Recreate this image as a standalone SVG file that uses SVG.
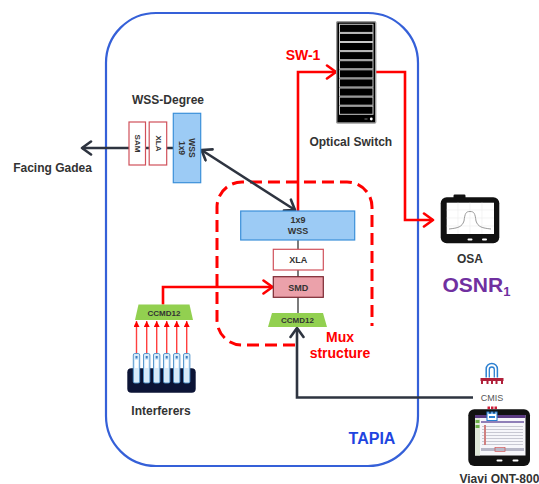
<svg xmlns="http://www.w3.org/2000/svg" width="539" height="484" viewBox="0 0 539 484">
  <style>
    .lbl { font-family: "Liberation Sans", Arial, sans-serif; font-weight: bold; fill: #333; }
    .red { font-family: "Liberation Sans", Arial, sans-serif; font-weight: bold; fill: #ff0000; }
    .dark { fill: none; stroke: #2e3440; stroke-width: 2.6; }
    .redline { fill: none; stroke: #ff0000; stroke-width: 2.6; }
    .feed { fill: none; stroke: #ff4040; stroke-width: 1.4; }
    .sm { font-family: "Liberation Sans", Arial, sans-serif; font-weight: bold; fill: #333; text-anchor: middle; }
  </style>
  <defs>
    <marker id="chev-dark" viewBox="-11 -8 13 16" markerWidth="13" markerHeight="16" refX="0" refY="0" orient="auto-start-reverse" markerUnits="userSpaceOnUse">
      <path d="M-9,-6.5 L0,0 L-9,6.5" fill="none" stroke="#2e3440" stroke-width="2.6" stroke-linecap="round" stroke-linejoin="round"/>
    </marker>
    <marker id="chev-red" viewBox="-11 -8 13 16" markerWidth="13" markerHeight="16" refX="0" refY="0" orient="auto" markerUnits="userSpaceOnUse">
      <path d="M-9,-6.5 L0,0 L-9,6.5" fill="none" stroke="#ff0000" stroke-width="2.6" stroke-linecap="round" stroke-linejoin="round"/>
    </marker>
    <marker id="tri-red" viewBox="-6 -3 6 6" markerWidth="6" markerHeight="6" refX="0" refY="0" orient="auto" markerUnits="userSpaceOnUse">
      <path d="M-6,-3 L0,0 L-6,3 Z" fill="#ff0000"/>
    </marker>
  </defs>

  <rect width="539" height="484" fill="#ffffff"/>

  <!-- TAPIA site boundary -->
  <g id="tapia">
    <rect x="106" y="13" width="312" height="453" rx="50" fill="none" stroke="#3560d8" stroke-width="2.2"/>
    <text x="372" y="444" font-family="Liberation Sans, Arial, sans-serif" font-weight="bold" font-size="16" fill="#1f45e0" text-anchor="middle">TAPIA</text>
  </g>

  <!-- Mux structure outline -->
  <g id="mux-structure">
    <path d="M295,345 H242 A25,25 0 0 1 217,320 V207 A25,25 0 0 1 242,182 H347 A25,25 0 0 1 372,207 V326" fill="none" stroke="#ff0000" stroke-width="3" stroke-dasharray="12 6"/>
    <text class="red" x="340" y="341.5" font-size="14" text-anchor="middle">Mux</text>
    <text class="red" x="340" y="357.5" font-size="14" text-anchor="middle">structure</text>
  </g>

  <!-- connectors -->
  <g id="connectors">
    <line x1="173" y1="148" x2="82" y2="148" class="dark" marker-end="url(#chev-dark)"/>
    <line x1="201.5" y1="150" x2="295" y2="210" class="dark" marker-start="url(#chev-dark)" marker-end="url(#chev-dark)"/>
    <line x1="298" y1="240" x2="298" y2="313" stroke="#444" stroke-width="1.4"/>
    <path d="M298,211 V72 H336" class="redline" marker-end="url(#chev-red)"/>
    <path d="M376,72 H405 V220 H433" class="redline" marker-end="url(#chev-red)"/>
    <path d="M163,304.5 V287 H272.5" class="redline" marker-end="url(#chev-red)"/>
    <line x1="136.5" y1="354" x2="136.5" y2="321" class="feed" marker-end="url(#tri-red)"/>
    <line x1="146.7" y1="354" x2="146.7" y2="321" class="feed" marker-end="url(#tri-red)"/>
    <line x1="156.7" y1="354" x2="156.7" y2="321" class="feed" marker-end="url(#tri-red)"/>
    <line x1="166.7" y1="354" x2="166.7" y2="321" class="feed" marker-end="url(#tri-red)"/>
    <line x1="176.7" y1="354" x2="176.7" y2="321" class="feed" marker-end="url(#tri-red)"/>
    <line x1="186.7" y1="354" x2="186.7" y2="321" class="feed" marker-end="url(#tri-red)"/>
    <path d="M473,397.5 H297 V328" class="dark" marker-end="url(#chev-dark)"/>
  </g>

  <!-- WSS degree -->
  <g id="wss-degree">
    <text class="lbl" x="168" y="103.5" font-size="12" text-anchor="middle">WSS-Degree</text>
    <rect x="129" y="122" width="16.5" height="43" fill="#fff" stroke="#d0505a" stroke-width="1.2"/>
    <text class="sm" font-size="8" transform="translate(137.3,143.5) rotate(90)" dominant-baseline="central">SAM</text>
    <rect x="149.2" y="122" width="17.5" height="43" fill="#fff" stroke="#d0505a" stroke-width="1.2"/>
    <text class="sm" font-size="8" transform="translate(158,143.5) rotate(90)" dominant-baseline="central">XLA</text>
    <rect x="173.3" y="113.3" width="27.4" height="69.4" fill="#9ccbf5" stroke="#3b8fd9" stroke-width="1.2"/>
    <text class="sm" font-size="8.5" transform="translate(181.5,148) rotate(90)" dominant-baseline="central">1x9</text>
    <text class="sm" font-size="8.5" transform="translate(191.5,148) rotate(90)" dominant-baseline="central">WSS</text>
  </g>

  <g id="facing-gadea">
    <text class="lbl" x="52.5" y="172" font-size="12" text-anchor="middle">Facing Gadea</text>
  </g>

  <!-- Mux chain -->
  <g id="wss-1x9">
    <rect x="240.7" y="211" width="114" height="29" fill="#9ccbf5" stroke="#3b8fd9" stroke-width="1.2"/>
    <text class="sm" x="298" y="222.5" font-size="9">1x9</text>
    <text class="sm" x="298" y="234" font-size="9">WSS</text>
  </g>
  <g id="xla">
    <rect x="273.3" y="249.3" width="50" height="20.7" fill="#fff" stroke="#d0505a" stroke-width="1.2"/>
    <text class="sm" x="298.3" y="263" font-size="9">XLA</text>
  </g>
  <g id="smd">
    <rect x="273.3" y="276.7" width="50" height="20.6" fill="#eba1aa" stroke="#7a2630" stroke-width="1.2"/>
    <text class="sm" x="298.3" y="290.5" font-size="9" fill="#4a3035">SMD</text>
  </g>
  <g id="ccmd12-mux">
    <polygon points="272,313 323,313 327,327 268,327" fill="#92d050"/>
    <text class="sm" x="297.5" y="322.5" font-size="8">CCMD12</text>
  </g>

  <!-- Interferers -->
  <g id="ccmd12-interferers">
    <polygon points="138.5,304.5 189.5,304.5 193,320 135,320" fill="#92d050"/>
    <text class="sm" x="164" y="315.5" font-size="8">CCMD12</text>
  </g>
  <g id="interferers">
    <rect x="127.3" y="368.3" width="68.4" height="24.4" rx="4" fill="#0c1436"/>
    <g fill="#d8ebfa" stroke="#4a90c8" stroke-width="0.9">
      <rect x="133.3" y="353.5" width="6.4" height="29.5" rx="1.5"/>
      <rect x="143.5" y="353.5" width="6.4" height="29.5" rx="1.5"/>
      <rect x="153.5" y="353.5" width="6.4" height="29.5" rx="1.5"/>
      <rect x="163.5" y="353.5" width="6.4" height="29.5" rx="1.5"/>
      <rect x="173.5" y="353.5" width="6.4" height="29.5" rx="1.5"/>
      <rect x="183.5" y="353.5" width="6.4" height="29.5" rx="1.5"/>
    </g>
    <g fill="#ffffff">
      <rect x="135" y="360" width="3" height="8"/>
      <rect x="145.2" y="360" width="3" height="8"/>
      <rect x="155.2" y="360" width="3" height="8"/>
      <rect x="165.2" y="360" width="3" height="8"/>
      <rect x="175.2" y="360" width="3" height="8"/>
      <rect x="185.2" y="360" width="3" height="8"/>
    </g>
    <g fill="#3d7fc0">
      <rect x="135.5" y="356" width="2" height="2.5"/>
      <rect x="145.7" y="356" width="2" height="2.5"/>
      <rect x="155.7" y="356" width="2" height="2.5"/>
      <rect x="165.7" y="356" width="2" height="2.5"/>
      <rect x="175.7" y="356" width="2" height="2.5"/>
      <rect x="185.7" y="356" width="2" height="2.5"/>
    </g>
    <text class="lbl" x="161" y="414.5" font-size="12" text-anchor="middle">Interferers</text>
  </g>

  <!-- Optical switch -->
  <g id="optical-switch">
    <text class="red" x="303" y="60" font-size="14" text-anchor="middle">SW-1</text>
    <rect x="336.7" y="21.7" width="39" height="101.3" rx="1" fill="#000" stroke="#9a9a9a" stroke-width="1.4"/>
    <g fill="#000" stroke="#c8c8c8" stroke-width="1">
      <rect x="339.5" y="24.3" width="33.5" height="8.1"/>
      <rect x="339.5" y="33.4" width="33.5" height="8.1"/>
      <rect x="339.5" y="42.5" width="33.5" height="8.1"/>
      <rect x="339.5" y="51.6" width="33.5" height="8.1"/>
      <rect x="339.5" y="60.7" width="33.5" height="8.1"/>
      <rect x="339.5" y="69.8" width="33.5" height="8.1"/>
      <rect x="339.5" y="78.9" width="33.5" height="8.1"/>
      <rect x="339.5" y="88" width="33.5" height="8.1"/>
      <rect x="339.5" y="97.1" width="33.5" height="8.1"/>
      <rect x="339.5" y="106.2" width="33.5" height="8.1"/>
    </g>
    <circle cx="371.3" cy="119" r="1.4" fill="#fff"/>
    <rect x="364.5" y="118.5" width="3" height="1" fill="#777"/>
    <text class="lbl" x="350.8" y="145.5" font-size="12" text-anchor="middle">Optical Switch</text>
  </g>

  <!-- OSA -->
  <g id="osa">
    <rect x="453.5" y="194.5" width="12" height="5" rx="1.2" fill="#111"/>
    <rect x="440.7" y="197.3" width="58.6" height="46" rx="6" fill="#111"/>
    <rect x="446.7" y="202.7" width="47.3" height="31.3" fill="#fff"/>
    <g stroke="#ececec" stroke-width="0.6">
      <line x1="446.7" y1="210" x2="494" y2="210"/>
      <line x1="446.7" y1="218" x2="494" y2="218"/>
      <line x1="446.7" y1="226" x2="494" y2="226"/>
      <line x1="458" y1="202.7" x2="458" y2="234"/>
      <line x1="470" y1="202.7" x2="470" y2="234"/>
      <line x1="482" y1="202.7" x2="482" y2="234"/>
    </g>
    <path d="M449,229 C458,228 462,227 464,221 C465,213 466,211.5 470,211.5 C474,211.5 475,213 476,221 C478,227 482,228 491,229" fill="none" stroke="#9a9a9a" stroke-width="1"/>
    <rect x="467.5" y="238.5" width="5" height="2" rx="1" fill="#fff"/>
    <rect x="482" y="238.5" width="5" height="2" rx="1" fill="#fff"/>
    <text class="lbl" x="470" y="262.7" font-size="12" text-anchor="middle">OSA</text>
    <text x="476.5" y="291.7" font-family="Liberation Sans, Arial, sans-serif" font-weight="bold" font-size="21" fill="#7030a0" text-anchor="middle">OSNR<tspan font-size="13" dy="4">1</tspan></text>
  </g>

  <!-- CMIS -->
  <g id="cmis">
    <path d="M486.2,377.5 V369 A5.6,5.6 0 0 1 497.4,369 V377.5" fill="none" stroke="#2b7fd0" stroke-width="1.5"/>
    <path d="M489.3,377.5 V369.5 A2.5,2.5 0 0 1 494.3,369.5 V377.5" fill="none" stroke="#2b7fd0" stroke-width="1.3"/>
    <rect x="480.5" y="378" width="23" height="3" fill="#b0203a"/>
    <g fill="#b0203a">
      <rect x="481" y="381" width="2" height="3"/>
      <rect x="486.5" y="381" width="2" height="3"/>
      <rect x="491" y="381" width="2" height="3"/>
      <rect x="495.5" y="381" width="2" height="3"/>
      <rect x="501" y="381" width="2" height="3"/>
    </g>
    <text x="492" y="400.5" font-family="Liberation Sans, Arial, sans-serif" font-size="9" fill="#555" text-anchor="middle">CMIS</text>
  </g>

  <!-- Viavi ONT-800 -->
  <g id="viavi">
    <rect x="468.3" y="409.3" width="61.7" height="56.7" rx="6" fill="#111"/>
    <rect x="475" y="415" width="50.5" height="40.5" fill="#f6f6fa"/>
    <rect x="475" y="415" width="50.5" height="3" fill="#5b3a82"/>
    <rect x="475" y="418" width="5" height="37.5" fill="#dfe8d8"/>
    <rect x="475.5" y="420" width="4" height="3" fill="#6cb04a"/>
    <rect x="475.5" y="425" width="4" height="3" fill="#6cb04a"/>
    <rect x="481" y="421" width="43" height="2" fill="#8f7fb8"/>
    <g fill="#c8c8d2">
      <rect x="482" y="426" width="41" height="1"/>
      <rect x="482" y="429" width="41" height="1"/>
      <rect x="482" y="432" width="41" height="1"/>
      <rect x="482" y="435" width="41" height="1"/>
      <rect x="482" y="438" width="41" height="1"/>
      <rect x="482" y="441" width="41" height="1"/>
      <rect x="482" y="444" width="41" height="1"/>
    </g>
    <rect x="484" y="425" width="2" height="20" fill="#d08080"/>
    <rect x="481" y="448" width="43" height="3" fill="#b8b8c8"/>
    <rect x="495" y="447.5" width="10" height="4" fill="none" stroke="#d05050" stroke-width="0.7"/>
    <rect x="496.5" y="459.5" width="6" height="2" rx="1" fill="#fff"/>
    <rect x="512.5" y="459.5" width="6" height="2" rx="1" fill="#fff"/>
    <g fill="#d0203a">
      <rect x="487.5" y="406.5" width="2.5" height="2.5"/>
      <rect x="491" y="406.5" width="2.5" height="2.5"/>
      <rect x="494.5" y="406.5" width="2.5" height="2.5"/>
    </g>
    <path d="M487,412 h2 v1.5 h2 v-1.5 h2 v1.5 h2 v-1.5 h2 v8.5 h-10 Z" fill="#fff" stroke="#2b7fd0" stroke-width="1.1"/>
    <rect x="489" y="416" width="6" height="2" fill="#2b7fd0"/>
    <text class="lbl" x="459.5" y="482.5" font-size="12">Viavi ONT-800</text>
  </g>
</svg>
